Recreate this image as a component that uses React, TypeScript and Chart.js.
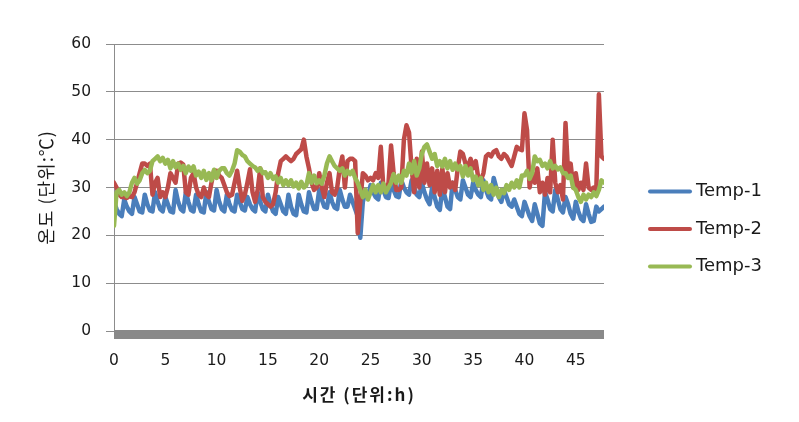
import React, { useEffect, useRef } from 'react';
import { Chart, registerables } from 'chart.js';

Chart.register(...registerables);

// ---- data ----
const STEP_HOURS = 0.25; // sampling interval (h)
const X_MAX = 47.75;
const X_TICKS = [0, 5, 10, 15, 20, 25, 30, 35, 40, 45];
const Y_MIN = 0;
const Y_MAX = 60;
const Y_TICK_STEP = 10;

const SERIES_NAMES = ['Temp-1', 'Temp-2', 'Temp-3'];
const X_TITLE = '시간 (단위:h)';
const Y_TITLE = '온도 (단위:℃)';

// one row = four hours (4 samples per hour)
const TEMP1 = [
  27, 25.5, 24.5, 24,   27.5, 26, 25, 24.5,   28, 26.5, 25, 24.8,   28.5, 26.5, 25.2, 25,
  29, 27, 25.5, 25,     28, 26.5, 25, 24.8,   29.5, 27, 25.5, 25,   29, 27, 25.3, 25,
  28.5, 26.5, 25, 24.8, 29, 27, 25.5, 25.2,   29.5, 27, 25.5, 25,   28.5, 26.5, 25.3, 25,
  28.5, 27, 25.5, 25.2, 28, 26.5, 25.5, 25,   29, 27, 25.5, 25,     28.5, 26.5, 25, 24.5,
  28, 26.5, 25, 24.5,   28.5, 26, 24.5, 24.2, 28.5, 26.5, 25, 24.8, 29, 27, 25.5, 25.5,
  29.5, 27.5, 26, 25.8, 29, 27, 25.8, 25.5,   29.5, 27.5, 26, 26,   28.5, 27, 25.5, 24,
  19.5, 27, 29, 28,     30.5, 29, 28, 27.5,   31, 29.5, 28, 27.8,   31, 29.5, 28.2, 28,
  31.5, 30, 29, 28.5,   31.5, 30, 28.5, 28,   31, 29, 27.5, 26.5,   30, 28, 26, 25.3,
  30, 28, 26, 25.5,     31, 29.5, 28, 27.5,   31.5, 30, 28.5, 28,   31, 29.5, 28.5, 28,
  31.5, 29.5, 28, 27.5, 32, 30, 28, 27,       29.5, 28, 26.5, 26,   27.5, 26, 24.5, 24,
  27, 25.5, 24, 23,     26.5, 24.5, 22.5, 22, 29, 27.5, 25.5, 25,   29.5, 27.5, 25.5, 24.8,
  28, 26.5, 24.5, 23.5, 27, 25, 23.5, 23,     26.5, 24.5, 22.8, 23, 26, 25, 25.5, 26,
];

const TEMP2 = [
  31, 30, 28.5, 28,     28, 27.8, 28.2, 28,   29, 31, 33, 35,       35, 34.5, 35, 28.5,
  31, 32, 28, 29,       28, 30, 33, 32,       31, 35, 35.2, 34.8,   29, 28.5, 32, 33,
  30, 28.5, 28, 30,     28.5, 28, 31, 33.5,   33.5, 32.5, 32, 30.5, 29, 28.2, 28.5, 31,
  33.5, 30, 27.2, 28.5, 31, 33.8, 29, 27,     29.5, 34, 28, 27,     26.5, 26, 26.5, 29,
  33, 35.5, 36, 36.5,   36, 35.5, 36, 37,     37.5, 38, 40, 36.5,   34, 31, 29.5, 30,
  33, 30, 28, 31,       33, 29, 28.5, 30,     34, 36.5, 30, 35.5,   36, 36, 35.5, 20.5,
  27, 33, 32.5, 31.5,   32, 31.5, 33, 32,     38.5, 30, 29.5, 31,   38.8, 33, 29.5, 29.5,
  30, 40, 43, 41.5,     34, 29, 36, 30,       37.5, 31, 35, 30.5,   34, 29, 33.5, 28.5,
  34, 29, 33, 30,       31, 29.5, 34, 37.5,   37, 35, 34.5, 36,     34, 35.5, 32, 31.5,
  33, 36.5, 37, 36.5,   37.5, 37.8, 36.5, 36, 37, 36.5, 35.5, 34.5, 36.5, 38.5, 38, 37.8,
  45.5, 42, 30, 33,     31, 34, 29, 31,       28.5, 32, 29, 40,     31, 29, 30.5, 27.5,
  43.5, 33, 35, 30,     33, 29.5, 31, 29.5,   35, 30, 29.5, 30,     29.5, 49.5, 36.5, 36,
];

const TEMP3 = [
  22, 29, 29.5, 28.5,   29, 28.2, 29, 31,     32, 30.8, 31.5, 33,   33.7, 33, 33.5, 35.5,
  36, 36.5, 35.5, 36.2, 35, 35.8, 34, 35.5,   34.2, 35, 33.7, 34.5, 33, 34.4, 33.5, 34.4,
  32.5, 33.3, 32, 33.5, 31.6, 33, 31.5, 33.7, 32, 33.5, 34, 34,     33, 32.5, 33.5, 35,
  37.8, 37.5, 36.8, 36.5, 35.5, 35, 34.5, 34.2, 33.5, 34, 33, 33.2, 32, 33, 31.8, 32.3,
  31, 32, 30.5, 31.5,   30.5, 31.5, 30.2, 31, 29.8, 31.2, 30, 30.5, 33, 31, 32.5, 30.9,
  31.5, 30.8, 32.5, 35, 36.5, 35.5, 34.5, 34, 33.5, 34, 32.5, 33.5, 32.8, 33.5, 32, 31,
  29.5, 28, 29.5, 27.5, 29, 30.5, 29, 30.5,   29, 30.8, 29, 30,     31, 32.8, 31, 32.5,
  31, 33.5, 32.5, 35,   33, 35.5, 32.5, 34,   37, 38.5, 39, 37.5,   36, 37, 34.5, 35.5,
  34.4, 36, 34, 35.5,   33.7, 35, 33.8, 34.5, 32.3, 34.5, 32.5, 34, 31.5, 32.3, 30.5, 32,
  29.5, 31, 29, 30.5,   28.5, 30, 28, 29.5,   28.8, 30.5, 29.5, 31, 30, 31.5, 30, 32.5,
  32.5, 33.5, 31.8, 33, 36.5, 35.5, 35.8, 34.5, 35, 34, 35.5, 34,   34.5, 33.8, 34.2, 33,
  33, 32, 32.5, 30,     29.5, 28, 27, 28.5,   27.5, 28.5, 28, 29,   28.2, 29.5, 31.5, 31,
];

const SERIES_VALUES = [TEMP1, TEMP2, TEMP3];
const SERIES_COLORS = ['#4A7EBB', '#BE4B48', '#98B954'];

const toPoints = (values: number[]) => values.map((v, i) => ({ x: i * STEP_HOURS, y: v }));

const FONT_FAMILY = '"DejaVu Sans", sans-serif';
const KR_FONT = '"Noto Sans CJK KR", sans-serif';
const TEXT_COLOR = '#1a1a1a';
const GRID_COLOR = '#8c8c8c';

const decorPlugin = {
  id: 'decor',
  beforeDatasetsDraw(chart: any) {
    const { ctx, chartArea } = chart;
    ctx.save();
    ctx.fillStyle = '#898989';
    ctx.fillRect(chartArea.left, chartArea.bottom - 1, chartArea.right - chartArea.left, 9);
    ctx.restore();
  },
  afterDraw(chart: any) {
    const { ctx, chartArea } = chart;
    ctx.save();
    // legend
    chart.data.datasets.forEach((ds: any, i: number) => {
      const y = 191.5 + i * 37.5;
      ctx.strokeStyle = ds.borderColor;
      ctx.lineWidth = 4;
      ctx.lineCap = 'round';
      ctx.beginPath();
      ctx.moveTo(650, y);
      ctx.lineTo(690, y);
      ctx.stroke();
      ctx.fillStyle = TEXT_COLOR;
      ctx.font = '18px ' + FONT_FAMILY;
      ctx.textAlign = 'left';
      ctx.textBaseline = 'middle';
      ctx.fillText(ds.label, 696, y);
    });
    // x title
    const cx = (chartArea.left + chartArea.right) / 2;
    ctx.font = 'bold 17px ' + KR_FONT;
    (ctx as any).letterSpacing = '2px';
    ctx.textAlign = 'center';
    ctx.textBaseline = 'middle';
    ctx.fillStyle = TEXT_COLOR;
    ctx.fillText(X_TITLE, cx, 395);
    // y title
    const cy = (chartArea.top + chartArea.bottom) / 2;
    ctx.translate(46, cy);
    ctx.rotate(-Math.PI / 2);
    ctx.font = '18px ' + KR_FONT;
    (ctx as any).letterSpacing = '1px';
    ctx.fillText(Y_TITLE, 0, 0);
    ctx.restore();
  },
};

export default function App() {
  const canvasRef = useRef<HTMLCanvasElement | null>(null);

  useEffect(() => {
    if (!canvasRef.current) return;
    const chart = new Chart(canvasRef.current, {
      type: 'line',
      data: {
        datasets: SERIES_NAMES.map((name, i) => ({
          label: name,
          data: toPoints(SERIES_VALUES[i]),
          borderColor: SERIES_COLORS[i],
          backgroundColor: SERIES_COLORS[i],
          borderWidth: 4.5,
          pointRadius: 0,
          tension: 0,
          borderCapStyle: 'round',
          borderJoinStyle: 'round',
          order: 3 - i,
        })),
      },
      options: {
        animation: false,
        responsive: false,
        devicePixelRatio: 1,
        layout: { padding: { left: 0, right: 195, top: 44, bottom: 0 } },
        plugins: { legend: { display: false }, tooltip: { enabled: false } },
        scales: {
          x: {
            type: 'linear',
            min: 0,
            max: X_MAX,
            afterFit: (s: any) => { s.height = 91; },
            afterBuildTicks: (s: any) => { s.ticks = X_TICKS.map((v) => ({ value: v })); },
            grid: { display: false, drawTicks: false },
            border: { display: false },
            ticks: {
              padding: 21,
              maxRotation: 0,
              autoSkip: false,
              color: TEXT_COLOR,
              font: { family: FONT_FAMILY, size: 15.5 },
            },
          },
          y: {
            min: Y_MIN,
            max: Y_MAX,
            afterFit: (s: any) => { s.width = 114; },
            grid: { color: GRID_COLOR, lineWidth: 1, tickLength: 8 },
            border: { color: GRID_COLOR, width: 1 },
            ticks: {
              stepSize: Y_TICK_STEP,
              padding: 15,
              color: TEXT_COLOR,
              font: { family: FONT_FAMILY, size: 15.5 },
            },
          },
        },
      },
      plugins: [decorPlugin],
    } as any);
    return () => chart.destroy();
  }, []);

  return (
    <div style={{ position: 'fixed', left: 0, top: 0, width: 799, height: 422, background: '#fff' }}>
      <canvas ref={canvasRef} width={799} height={422} style={{ display: 'block' }} />
    </div>
  );
}
